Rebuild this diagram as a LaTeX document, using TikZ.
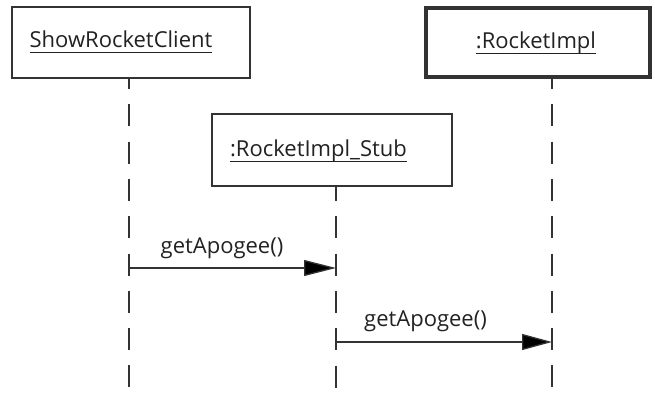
\documentclass[tikz,border=0pt]{standalone}
\usepackage{fontspec}
\setmainfont{Open Sans}
\usetikzlibrary{arrows.meta,calc}
\definecolor{ln}{HTML}{333333}
\definecolor{tx}{HTML}{222222}
\newcommand\myul[1]{\setbox0\hbox{#1}\rlap{\rule[-5.4pt]{\wd0}{1.3pt}}\box0}
\tikzset{
  objbox/.style={draw=ln,line width=1.3pt,rectangle,inner sep=0pt,fill=white},
  lbl/.style={inner sep=0pt,anchor=base,text=tx,font=\fontsize{22}{26}\selectfont},
  life/.style={draw=ln,line width=1.3pt,dash pattern=on 22pt off 15.3pt},
  msg/.style={draw=ln,line width=1.3pt,-{Triangle[length=32pt,width=16pt,fill=black]}}
}
\begin{document}
\begin{tikzpicture}[x=1pt,y=-1pt]
\useasboundingbox (0,0) rectangle (655,403);
% lifeline ends
\coordinate (t1) at (129,78);
\coordinate (t3) at (552,78);
\coordinate (t2) at (336,186);
\coordinate (b1) at (129,388);
\coordinate (b2) at (336,388);
\coordinate (b3) at (552,388);
\draw[life,dash phase=11pt] (t1) -- (b1);
\draw[life,dash phase=11pt] (t3) -- (b3);
\draw[life,dash phase=7pt] (t2) -- (b2);
% boxes
\node[objbox,minimum width=238pt,minimum height=71pt] (client) at (131,42.5) {};
\node[objbox,line width=4pt,minimum width=224pt,minimum height=69pt] (impl) at (538,42.5) {};
\node[objbox,minimum width=240pt,minimum height=72pt] (stub) at (332,150) {};
\node[lbl] (clientT) at (121,47.5) {\myul{ShowRocketClient}};
\node[lbl] (implT) at (536,49) {\myul{:RocketImpl}};
\node[lbl] (stubT) at (318.5,157) {\myul{:RocketImpl\_Stub}};
% messages
\coordinate (m1s) at (129,268);
\coordinate (m1e) at (336,268);
\coordinate (m2s) at (336,342);
\coordinate (m2e) at (552,342);
\draw[msg] (m1s) -- (m1e);
\draw[msg,-{Triangle[length=30pt,width=16pt,fill=black]}] (m2s) -- (m2e);
\node[lbl] (l1) at (222,253) {getApogee()};
\node[lbl] (l2) at (425.5,326) {getApogee()};
\end{tikzpicture}
\end{document}
